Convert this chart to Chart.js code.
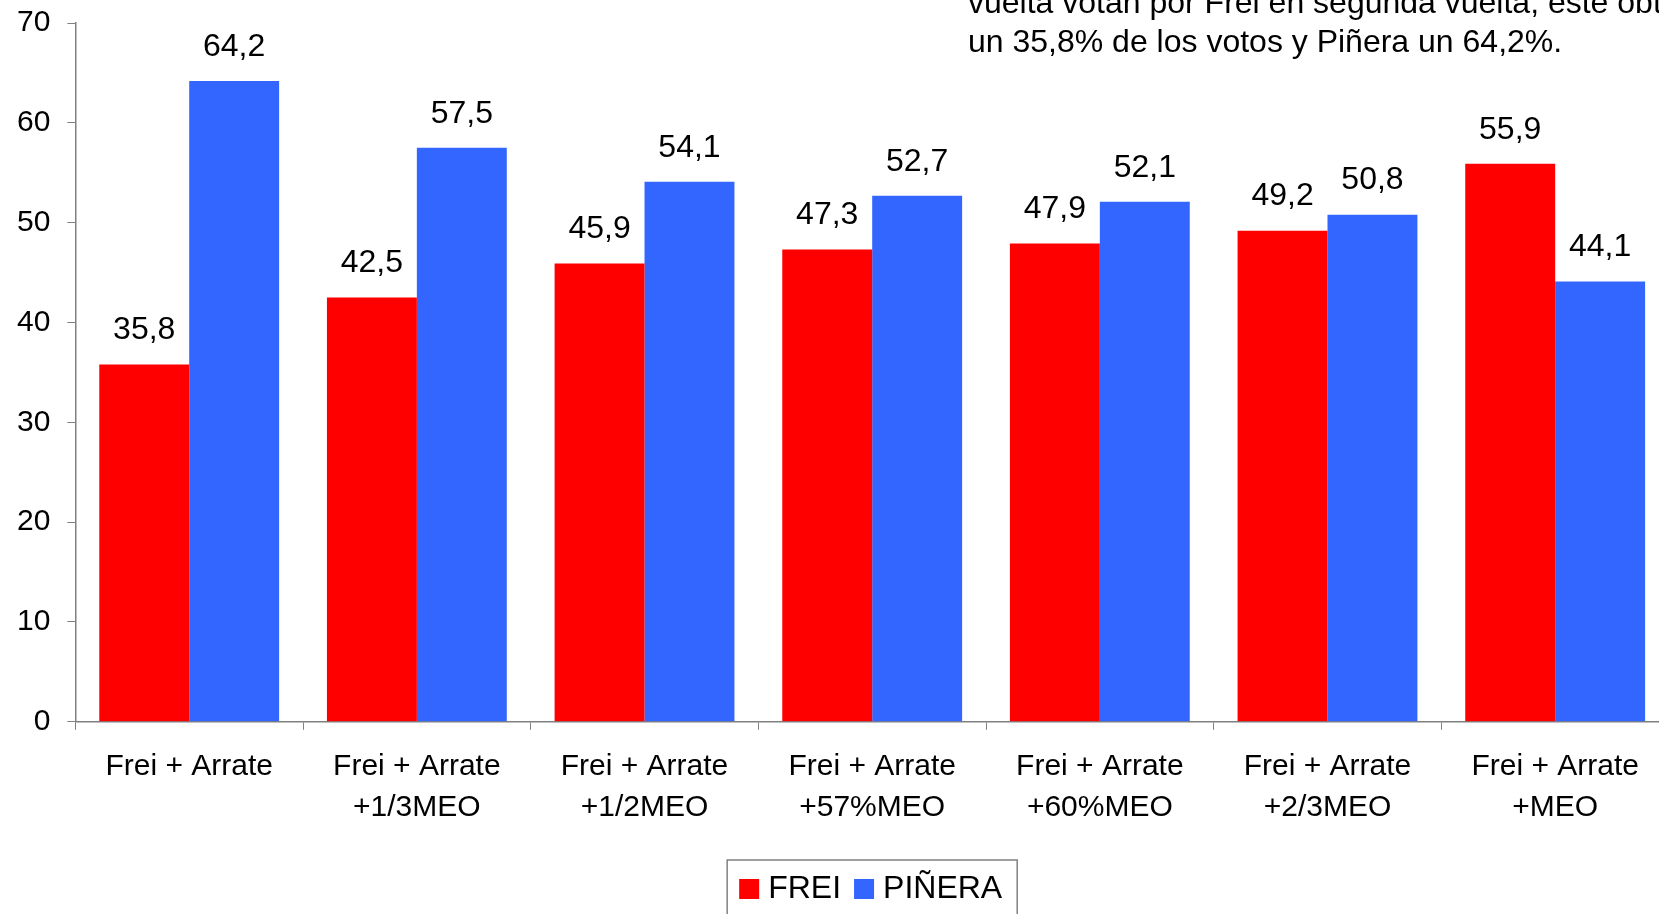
<!DOCTYPE html>
<html><head><meta charset="utf-8">
<script src="https://cdn.jsdelivr.net/npm/chart.js@4.4.1/dist/chart.umd.min.js"></script>
<style>
html,body{margin:0;padding:0;background:#fff;overflow:hidden;}
#wrap{position:relative;width:1659px;height:914px;overflow:hidden;background:#fff;}
#c{display:block;}
</style></head><body>
<div id="wrap"><canvas id="c" width="1670" height="914"></canvas></div>
<script>
const categories = [
  ["Frei + Arrate"],
  ["Frei + Arrate", "+1/3MEO"],
  ["Frei + Arrate", "+1/2MEO"],
  ["Frei + Arrate", "+57%MEO"],
  ["Frei + Arrate", "+60%MEO"],
  ["Frei + Arrate", "+2/3MEO"],
  ["Frei + Arrate", "+MEO"]
];
const seriesNames = ["FREI", "PIÑERA"];
const freiValues = [35.8, 42.5, 45.9, 47.3, 47.9, 49.2, 55.9];
const pineraValues = [64.2, 57.5, 54.1, 52.7, 52.1, 50.8, 44.1];
const yTickValues = [0, 10, 20, 30, 40, 50, 60, 70];
const noteLines = [
  "vuelta votan por Frei en segunda vuelta, este obt",
  "un 35,8% de los votos y Piñera un 64,2%."
];

const FONT = "'Liberation Sans', Arial, sans-serif";

const labelsPlugin = {
  id: 'barLabels',
  afterDatasetsDraw(chart) {
    const ctx = chart.ctx;
    ctx.save();
    ctx.font = "32px " + FONT;
    ctx.fillStyle = '#000';
    ctx.textAlign = 'center';
    ctx.textBaseline = 'middle';
    chart.data.datasets.forEach((ds, di) => {
      const meta = chart.getDatasetMeta(di);
      meta.data.forEach((bar, i) => {
        const txt = ds.data[i].toFixed(1).replace('.', ',');
        ctx.fillText(txt, bar.x, bar.y - 34);
      });
    });
    ctx.restore();
  }
};

const legendPlugin = {
  id: 'boxLegend',
  afterDraw(chart) {
    const ctx = chart.ctx;
    const ca = chart.chartArea;
    ctx.save();
    ctx.font = "32px " + FONT;
    const box = 20, gapText = 9, gapItem = 13, padL = 12, padR = 15;
    const items = chart.data.datasets.map(ds => ({label: ds.label, color: ds.backgroundColor, w: ctx.measureText(ds.label).width}));
    let total = 0;
    items.forEach((it, i) => { total += box + gapText + it.w + (i < items.length - 1 ? gapItem : 0); });
    const W = total + padL + padR;
    const cx = (ca.left + ca.right) / 2;
    const left = cx - W / 2;
    const top = 860;
    ctx.strokeStyle = '#808080';
    ctx.lineWidth = 1.5;
    ctx.strokeRect(left, top, W, 80);
    let x = left + padL;
    const cy = 888;
    ctx.textBaseline = 'middle';
    ctx.textAlign = 'left';
    items.forEach(it => {
      ctx.fillStyle = it.color;
      ctx.fillRect(x, cy - 9, box, box);
      x += box + gapText;
      ctx.fillStyle = '#000';
      ctx.fillText(it.label, x, cy + 1);
      x += it.w + gapItem;
    });
    ctx.restore();
  }
};

const notePlugin = {
  id: 'note',
  afterDraw(chart) {
    const ctx = chart.ctx;
    ctx.save();
    ctx.font = "32px " + FONT;
    ctx.fillStyle = '#000';
    ctx.textAlign = 'left';
    ctx.textBaseline = 'alphabetic';
    ctx.fillText(noteLines[0], 968, 13);
    ctx.fillText(noteLines[1], 968, 52);
    ctx.restore();
  }
};

new Chart(document.getElementById('c'), {
  type: 'bar',
  data: {
    labels: categories,
    datasets: [
      {label: seriesNames[0], data: freiValues, backgroundColor: '#FF0000', borderWidth: 0},
      {label: seriesNames[1], data: pineraValues, backgroundColor: '#3366FF', borderWidth: 0}
    ]
  },
  options: {
    responsive: false,
    animation: false,
    devicePixelRatio: 1,
    layout: {padding: {top: 0, left: 0, right: 1, bottom: 70}},
    plugins: {legend: {display: false}, tooltip: {enabled: false}},
    datasets: {bar: {categoryPercentage: 0.79, barPercentage: 1.0}},
    scales: {
      x: {
        offset: true,
        grid: {display: true, offset: true, drawOnChartArea: false, tickLength: 8, color: '#808080', lineWidth: 1},
        border: {display: true, color: '#808080', width: 1.5},
        ticks: {font: {family: FONT, size: 30, lineHeight: 1.37}, color: '#000', padding: 16, maxRotation: 0, autoSkip: false}
      },
      y: {
        min: 0, max: 70,
        afterBuildTicks(scale) { scale.ticks = yTickValues.map(v => ({value: v})); },
        grid: {display: true, drawOnChartArea: false, tickLength: 8, color: '#808080', lineWidth: 1},
        border: {display: true, color: '#808080', width: 1.5},
        ticks: {font: {family: FONT, size: 30, lineHeight: 0.4}, color: '#000', padding: 17}
      }
    }
  },
  plugins: [labelsPlugin, legendPlugin, notePlugin]
});
</script>
</body></html>
